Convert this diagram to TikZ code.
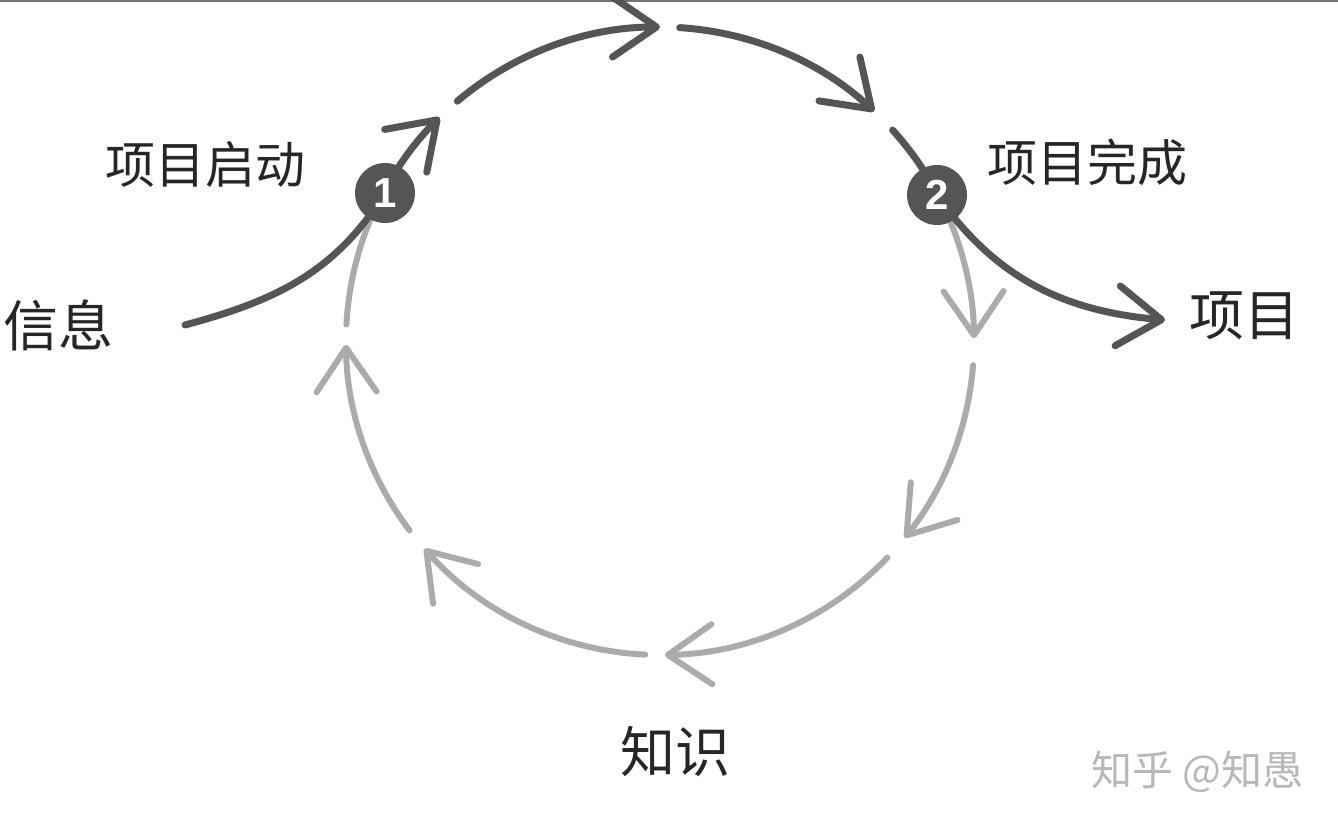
\documentclass[tikz,border=0pt]{standalone}
\usepackage{fontspec}
\newfontfamily\cjk{Noto Sans CJK SC}
\newfontfamily\badgefont{Liberation Sans}
\usetikzlibrary{arrows.meta}
\definecolor{darkc}{HTML}{555555}
\definecolor{lightc}{HTML}{ABABAB}
\begin{document}
\begin{tikzpicture}[x=1pt,y=1pt,
  tipv/.tip={Straight Barb[length=44pt,width=60pt,round]},
  darkarc/.style={draw=darkc, line width=7pt, line cap=round},
  lightarc/.style={draw=lightc, line width=6pt, line cap=round},
  badge/.style={circle, fill=darkc, minimum size=60pt, inner sep=0pt, text=white, font=\badgefont\bfseries\fontsize{42}{42}\selectfont},
  lbl/.style={font=\cjk\fontsize{50}{54}\selectfont, text=black!85, inner sep=0pt},
  biglbl/.style={font=\cjk\fontsize{55}{58}\selectfont, text=black!85, inner sep=0pt},
  wmark/.style={font=\cjk\fontsize{41}{44}\selectfont, text=black!28, inner sep=0pt},
]
\fill[white] (0,0) rectangle (1338,-829);
\useasboundingbox (0,0) rectangle (1338,-829);
\draw[black!55, line width=1.5pt] (0,-1) -- (1338,-1);

\coordinate (C) at (660,-341);
\coordinate (p1) at (385,-193);
\coordinate (p2) at (937,-195);
\coordinate (s1) at (185,-325);
\coordinate (e2) at (1165,-320);

% light (inner) cycle
\draw[lightarc,-{tipv}] ([shift={(C)}]25:314) arc[start angle=25, end angle=0.5, radius=314];
\draw[lightarc,-{tipv}] ([shift={(C)}]-4.4:314) arc[start angle=-4.4, end angle=-38.8, radius=314];
\draw[lightarc,-{tipv}] ([shift={(C)}]-43.6:314) arc[start angle=-43.6, end angle=-89.1, radius=314];
\draw[lightarc,-{tipv}] ([shift={(C)}]-92.7:314) arc[start angle=-92.7, end angle=-138.6, radius=314];
\draw[lightarc,-{tipv}] ([shift={(C)}]-142.9:314) arc[start angle=-142.9, end angle=-179.3, radius=314];
\draw[lightarc] ([shift={(C)}]177:314) arc[start angle=177, end angle=152, radius=314];

% dark path
\draw[darkarc] (s1) to[out=15,in=238] (p1);
\draw[darkarc,-{tipv}] ([shift={(C)}]151.7:314) arc[start angle=151.7, end angle=134.6, radius=314];
\draw[darkarc,-{tipv}] ([shift={(C)}]130.2:314) arc[start angle=130.2, end angle=90, radius=314];
\draw[darkarc,-{tipv}] ([shift={(C)}]86.4:314) arc[start angle=86.4, end angle=47, radius=314];
\draw[darkarc] ([shift={(C)}]42.2:314) arc[start angle=42.2, end angle=28.1, radius=314];
\draw[darkarc,-{tipv}] (p2) to[out=-55,in=175] (e2);

\node[badge] (b1) at (p1) {1};
\node[badge] (b2) at (p2) {2};

\node[lbl] (t1) at (205,-165) {项目启动};
\node[lbl] (t2) at (1087,-162) {项目完成};
\node[biglbl] (t3) at (58,-325) {信息};
\node[biglbl] (t4) at (1244,-316) {项目};
\node[biglbl] (t5) at (675,-752) {知识};
\node[wmark] (wm) at (1197,-772) {知乎 @知愚};
\end{tikzpicture}
\end{document}
